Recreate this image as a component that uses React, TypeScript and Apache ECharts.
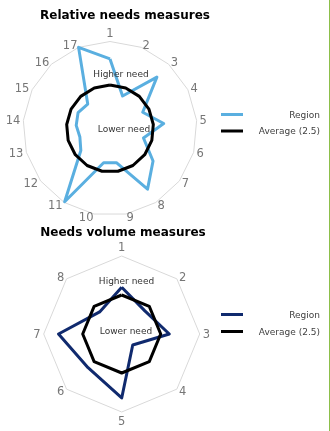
import React, { useEffect, useRef } from "react";
import * as echarts from "echarts";

const relCats = ["1", "2", "3", "4", "5", "6", "7", "8", "9", "10", "11", "12", "13", "14", "15", "16", "17"];
const relRegion = [4.0, 2.0, 4.0, 2.1, 3.1, 2.0, 3.1, 4.1, 2.0, 2.0, 4.95, 2.1, 1.8, 1.95, 2.05, 1.9, 5.0];
const relAverage = [2.5, 2.5, 2.5, 2.5, 2.5, 2.5, 2.5, 2.5, 2.5, 2.5, 2.5, 2.5, 2.5, 2.5, 2.5, 2.5, 2.5];

const volCats = ["1", "2", "3", "4", "5", "6", "7", "8"];
const volRegion = [3.0, 2.1, 3.05, 1.0, 4.1, 3.05, 4.05, 2.0];
const volAverage = [2.5, 2.5, 2.5, 2.5, 2.5, 2.5, 2.5, 2.5];

const MAX = 5;
const FONT = "DejaVu Sans, Verdana, sans-serif";

// clockwise ordering: first at top, then the rest reversed
const cw = <T,>(a: T[]): T[] => [a[0], ...a.slice(1).reverse()];

function radarCfg(cats: string[], center: number[], radius: number) {
  return {
    center,
    radius,
    startAngle: 90,
    shape: "polygon",
    splitNumber: 1,
    indicator: cw(cats).map((n) => ({ name: n, min: 0, max: MAX })),
    axisName: { color: "#767676", fontSize: 11.5, fontFamily: FONT },
    nameGap: 3,
    splitLine: { lineStyle: { color: "#d9d9d9", width: 1 } },
    splitArea: { show: false },
    axisLine: { show: false },
    axisTick: { show: false },
    axisLabel: { show: false },
  };
}

function line(radarIndex: number, name: string, values: number[], color: string) {
  return {
    type: "radar",
    name,
    radarIndex,
    symbol: "none",
    silent: true,
    lineStyle: { color, width: 3 },
    itemStyle: { color },
    data: [{ value: cw(values), name }],
  };
}

function legend(y1: number, y2: number, c1: string) {
  return [
    { type: "line", shape: { x1: 221, y1, x2: 243, y2: y1 }, style: { stroke: c1, lineWidth: 3 } },
    { type: "line", shape: { x1: 221, y1: y2, x2: 243, y2 }, style: { stroke: "#000", lineWidth: 3 } },
    { type: "text", x: 320, y: y1, style: { text: "Region", textAlign: "right", textVerticalAlign: "middle", fontSize: 9, fontFamily: FONT, fill: "#404040" } },
    { type: "text", x: 320, y: y2, style: { text: "Average (2.5)", textAlign: "right", textVerticalAlign: "middle", fontSize: 9, fontFamily: FONT, fill: "#404040" } },
  ];
}

function note(text: string, x: number, y: number) {
  return { type: "text", x, y, z: 10, style: { text, textAlign: "center", textVerticalAlign: "middle", fontSize: 9, fontFamily: FONT, fill: "#333" } };
}

export default function App() {
  const ref = useRef<HTMLDivElement>(null);
  useEffect(() => {
    if (!ref.current) return;
    const chart = echarts.init(ref.current, undefined, { renderer: "svg" });
    chart.setOption({
      animation: false,
      title: [
        { text: "Relative needs measures", left: 120, top: 4, textAlign: "center", textStyle: { fontSize: 12, fontWeight: "bold", fontFamily: FONT, color: "#000" } },
        { text: "Needs volume measures", left: 118, top: 221, textAlign: "center", textStyle: { fontSize: 12, fontWeight: "bold", fontFamily: FONT, color: "#000" } },
      ],
      radar: [radarCfg(relCats, [110, 128.5], 87), radarCfg(volCats, [121.7, 334], 78)],
      series: [
        line(0, "Region", relRegion, "#5aafe0"),
        line(0, "Average (2.5)", relAverage, "#000000"),
        line(1, "Region", volRegion, "#102a6e"),
        line(1, "Average (2.5)", volAverage, "#000000"),
      ],
      graphic: [
        ...legend(114.5, 131, "#5aafe0"),
        ...legend(314.5, 331.5, "#102a6e"),
        note("Higher need", 121, 73.5),
        note("Lower need", 124, 128.5),
        note("Higher need", 126.5, 281),
        note("Lower need", 126, 331),
        { type: "rect", shape: { x: 329, y: 0, width: 1, height: 431 }, style: { fill: "#8cbf4a" } },
      ],
    });
    return () => chart.dispose();
  }, []);
  return <div ref={ref} style={{ position: "fixed", left: 0, top: 0, width: 330, height: 431 }} />;
}
